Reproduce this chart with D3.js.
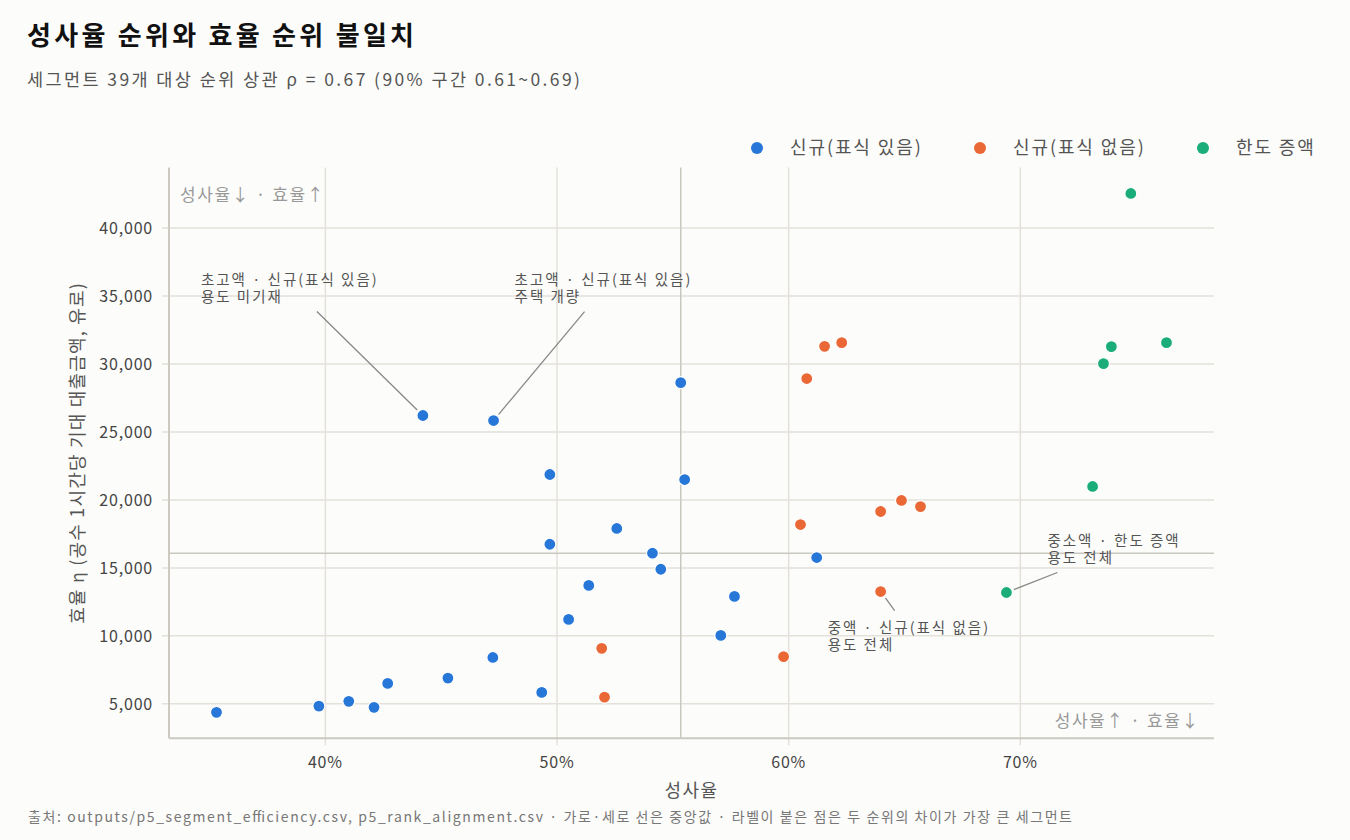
<!DOCTYPE html>
<html>
<head>
<meta charset="utf-8">
<script src="https://cdn.jsdelivr.net/npm/d3@7"></script>
<style>
	body { margin:0; background:#fcfcfa; }
	text { font-family:"Noto Sans CJK KR","Noto Sans",sans-serif; }
</style>
</head>
<body>
<svg id="chart" width="1350" height="840"></svg>
<script>

// groups
var groups = ['신규(표식 있음)', '신규(표식 없음)', '한도 증액'];
var groupColors = ['#2777d9', '#ea6736', '#1aad79'];

// 성사율 (%), 효율 (유로)
var newFlagRate = [35.30, 39.72, 41.01, 42.10, 42.69, 45.29, 47.23, 49.34, 50.50, 51.37, 52.58,
	49.69, 49.69, 54.12, 54.48, 57.66, 57.07, 55.34, 55.51, 61.21, 44.21, 47.26];
var newFlagEff = [4370, 4830, 5180, 4740, 6500, 6890, 8410, 5840, 11210, 13710, 17900,
	16740, 21870, 16080, 14900, 12900, 10030, 28630, 21500, 15760, 26210, 25840];

var newNoFlagRate = [51.93, 52.05, 59.78, 60.78, 61.55, 62.29, 60.51, 63.97, 64.87, 65.69, 63.97];
var newNoFlagEff = [9080, 5490, 8470, 28930, 31300, 31570, 18190, 19150, 19960, 19510, 13260];

var limitRate = [73.93, 76.31, 73.59, 73.12, 69.40, 74.77];
var limitEff = [31280, 31570, 30030, 20990, 13190, 42550];

var xTicks = [40, 50, 60, 70];
var yTicks = [5000, 10000, 15000, 20000, 25000, 30000, 35000, 40000];

// labelled segments: group, index in that group, text lines
var labelled = [
	{g:0, i:20, lines:['초고액 · 신규(표식 있음)', '용도 미기재']},
	{g:0, i:21, lines:['초고액 · 신규(표식 있음)', '주택 개량']},
	{g:1, i:10, lines:['중액 · 신규(표식 없음)', '용도 전체']},
	{g:2, i:4, lines:['중소액 · 한도 증액', '용도 전체']}
];
// text offsets from the point (px), leader start offsets
var labelPos = [
	{tx:-222, ty:-131, lx:-106, ly:-104},
	{tx:21, ty:-136, lx:91, ly:-109},
	{tx:-53, ty:41, lx:14, ly:19},
	{tx:41, ty:-46, lx:51, ly:-20}
];

var rates = [newFlagRate, newNoFlagRate, limitRate];
var effs = [newFlagEff, newNoFlagEff, limitEff];

var data = [];
groups.forEach(function(g, gi){
	rates[gi].forEach(function(r, i){
		data.push({g:gi, i:i, rate:r, eff:effs[gi][i]});
	});
});

var plotL = 169, plotR = 1214, plotT = 167.5, plotB = 738.3;

var xExt = d3.extent(data, function(d){ return d.rate; });
var yExt = d3.extent(data, function(d){ return d.eff; });
var xPad = (xExt[1] - xExt[0]) * 0.05;
var yPad = (yExt[1] - yExt[0]) * 0.05;

var x = d3.scaleLinear().domain([xExt[0] - xPad, xExt[1] + xPad]).range([plotL, plotR]);
var y = d3.scaleLinear().domain([yExt[0] - yPad, yExt[1] + yPad]).range([plotB, plotT]);

var svg = d3.select('#chart');

svg.append('rect').attr('width', 1350).attr('height', 840).attr('fill', '#fcfcfa');

// grid
svg.append('g').selectAll('line')
	.data(yTicks).enter().append('line')
	.attr('x1', plotL - 7).attr('x2', plotR)
	.attr('y1', function(d){ return y(d); }).attr('y2', function(d){ return y(d); })
	.attr('stroke', '#e3e1da').attr('stroke-width', 1.5);

svg.append('g').selectAll('line')
	.data(xTicks).enter().append('line')
	.attr('x1', function(d){ return x(d); }).attr('x2', function(d){ return x(d); })
	.attr('y1', plotT).attr('y2', plotB + 7)
	.attr('stroke', '#e3e1da').attr('stroke-width', 1.5);

// medians
var medX = d3.median(data, function(d){ return d.rate; });
var medY = d3.median(data, function(d){ return d.eff; });

svg.append('line')
	.attr('x1', x(medX)).attr('x2', x(medX)).attr('y1', plotT).attr('y2', plotB)
	.attr('stroke', '#c9c8c0').attr('stroke-width', 1.5);
svg.append('line')
	.attr('x1', plotL).attr('x2', plotR).attr('y1', y(medY)).attr('y2', y(medY))
	.attr('stroke', '#c9c8c0').attr('stroke-width', 1.5);

// spines
svg.append('line')
	.attr('x1', plotL).attr('x2', plotL).attr('y1', plotT).attr('y2', plotB)
	.attr('stroke', '#cbc9c0').attr('stroke-width', 2);
svg.append('line')
	.attr('x1', plotL).attr('x2', plotR).attr('y1', plotB).attr('y2', plotB)
	.attr('stroke', '#cbc9c0').attr('stroke-width', 2);

// tick labels
svg.append('g').selectAll('text')
	.data(yTicks).enter().append('text')
	.attr('x', plotL - 16)
	.attr('y', function(d){ return y(d) + 6; })
	.attr('text-anchor', 'end')
	.attr('font-size', 16).attr('letter-spacing', 0.8)
	.attr('fill', '#444')
	.text(function(d){ return d3.format(',')(d); });

svg.append('g').selectAll('text')
	.data(xTicks).enter().append('text')
	.attr('x', function(d){ return x(d); })
	.attr('y', plotB + 30)
	.attr('text-anchor', 'middle')
	.attr('font-size', 16).attr('letter-spacing', 0.8)
	.attr('fill', '#444')
	.text(function(d){ return d + '%'; });

// axis titles
svg.append('text')
	.attr('x', (plotL + plotR) / 2).attr('y', 797)
	.attr('text-anchor', 'middle')
	.attr('font-size', 18).attr('letter-spacing', 1.5)
	.attr('fill', '#555')
	.text('성사율');

svg.append('text')
	.attr('transform', 'translate(84,' + ((plotT + plotB) / 2) + ') rotate(-90)')
	.attr('text-anchor', 'middle')
	.attr('font-size', 18).attr('letter-spacing', 1.2)
	.attr('fill', '#555')
	.text('효율 η (공수 1시간당 기대 대출금액, 유로)');

// corner notes
svg.append('text')
	.attr('x', 180).attr('y', 201)
	.attr('font-size', 17).attr('letter-spacing', 1.6)
	.attr('fill', '#999')
	.text('성사율↓ · 효율↑');
svg.append('text')
	.attr('x', 1200).attr('y', 727)
	.attr('text-anchor', 'end')
	.attr('font-size', 17).attr('letter-spacing', 1.6)
	.attr('fill', '#999')
	.text('성사율↑ · 효율↓');

// points
svg.append('g').selectAll('circle')
	.data(data).enter().append('circle')
	.attr('cx', function(d){ return x(d.rate); })
	.attr('cy', function(d){ return y(d.eff); })
	.attr('r', 6)
	.attr('fill', function(d){ return groupColors[d.g]; })
	.attr('stroke', '#fff')
	.attr('stroke-width', 1.2);

// labels
labelled.forEach(function(l, k){
	var px = x(rates[l.g][l.i]);
	var py = y(effs[l.g][l.i]);
	var p = labelPos[k];
	var lx = px + p.lx, ly = py + p.ly;
	var dx = lx - px, dy = ly - py;
	var len = Math.sqrt(dx * dx + dy * dy);
	svg.append('line')
		.attr('x1', lx).attr('y1', ly)
		.attr('x2', px + dx / len * 8).attr('y2', py + dy / len * 8)
		.attr('stroke', '#888').attr('stroke-width', 1.3);
	var t = svg.append('text')
		.attr('x', px + p.tx).attr('y', py + p.ty)
		.attr('font-size', 14.5).attr('letter-spacing', 2)
		.attr('fill', '#555');
	l.lines.forEach(function(s, j){
		t.append('tspan').attr('x', px + p.tx).attr('dy', j ? 17 : 0).text(s);
	});
});

// legend
var legX = [757, 980, 1203];
var leg = svg.append('g').selectAll('g')
	.data(groups).enter().append('g')
	.attr('transform', function(d, i){ return 'translate(' + legX[i] + ',148)'; });
leg.append('circle').attr('r', 6)
	.attr('fill', function(d, i){ return groupColors[i]; });
leg.append('text')
	.attr('x', 33).attr('y', 6)
	.attr('font-size', 18).attr('letter-spacing', 1.9)
	.attr('fill', '#555')
	.text(function(d){ return d; });

// title
svg.append('text')
	.attr('x', 27).attr('y', 45)
	.attr('font-size', 26).attr('font-weight', 'bold').attr('fill', '#111')
	.attr('textLength', 387).attr('lengthAdjust', 'spacing')
	.text('성사율 순위와 효율 순위 불일치');
svg.append('text')
	.attr('x', 27).attr('y', 86)
	.attr('font-size', 17.5).attr('fill', '#555')
	.attr('textLength', 553).attr('lengthAdjust', 'spacing')
	.text('세그먼트 39개 대상 순위 상관 ρ = 0.67 (90% 구간 0.61~0.69)');

svg.append('text')
	.attr('x', 28).attr('y', 822)
	.attr('font-size', 14).attr('fill', '#777')
	.attr('textLength', 1044).attr('lengthAdjust', 'spacing')
	.text('출처: outputs/p5_segment_efficiency.csv, p5_rank_alignment.csv · 가로·세로 선은 중앙값 · 라벨이 붙은 점은 두 순위의 차이가 가장 큰 세그먼트');

</script>
</body>
</html>
